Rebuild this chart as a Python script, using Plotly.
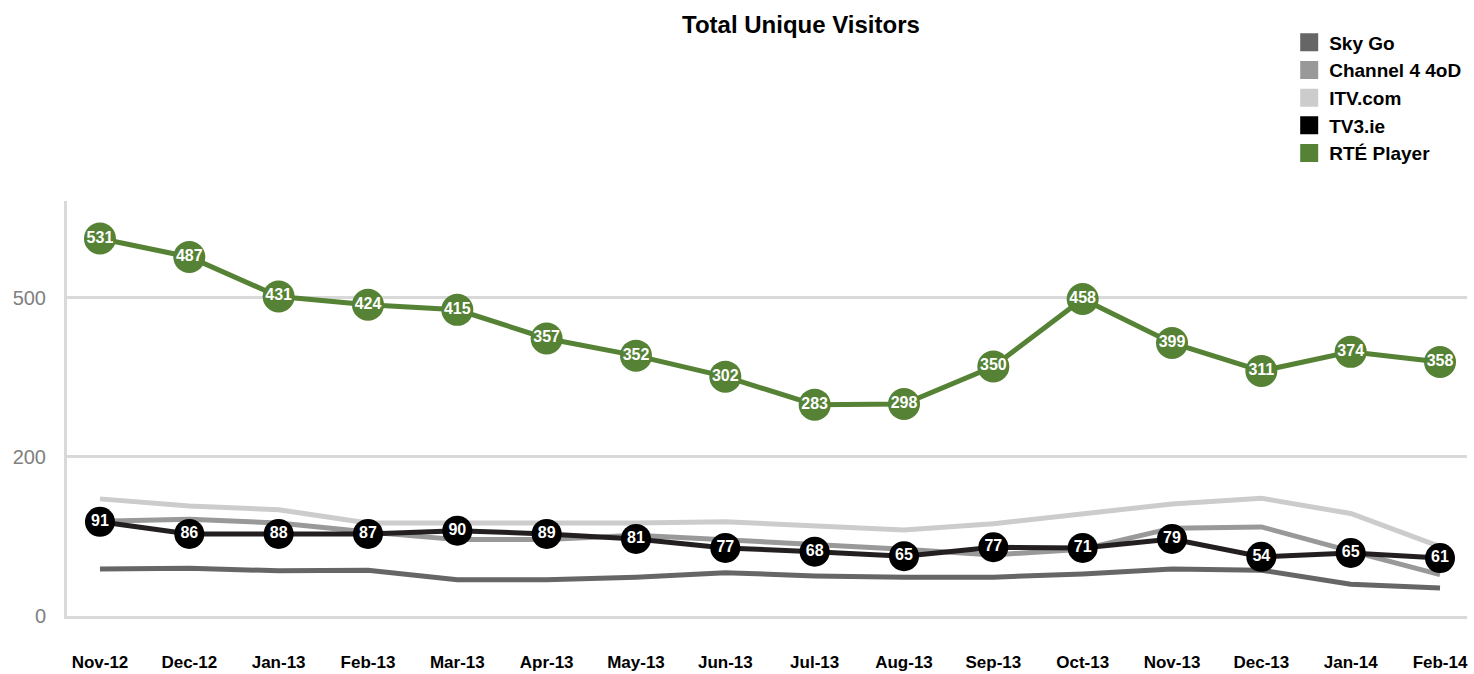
import plotly.graph_objects as go

months = ["Nov-12", "Dec-12", "Jan-13", "Feb-13", "Mar-13", "Apr-13", "May-13", "Jun-13",
          "Jul-13", "Aug-13", "Sep-13", "Oct-13", "Nov-13", "Dec-13", "Jan-14", "Feb-14"]

# Line heights, in the chart's own (uneven) axis units
sky_go = [74, 75, 71, 72, 57, 57, 61, 68, 63, 61, 61, 66, 74, 72, 50, 44]
channel4 = [149, 152, 146, 132, 120, 120, 127, 120, 113, 105, 96, 105, 138, 140, 102, 65]
itv = [184, 173, 167, 146, 146, 146, 146, 148, 142, 135, 145, 160, 176, 185, 161, 109]
tv3 = [148, 129, 129, 129, 134, 129, 121, 107, 101, 94, 108, 107, 121, 93, 99, 91]
rte = [593, 564, 502, 489, 481, 436, 409, 376, 332, 333, 392, 498, 429, 385, 415, 399]

# Printed values on the markers
tv3_labels = [91, 86, 88, 87, 90, 89, 81, 77, 68, 65, 77, 71, 79, 54, 65, 61]
rte_labels = [531, 487, 431, 424, 415, 357, 352, 302, 283, 298, 350, 458, 399, 311, 374, 358]

ytick_vals = [0, 250, 500]
ytick_text = ["0", "200", "500"]

FONT = "Liberation Sans, Arial, sans-serif"

C_SKY = "#666666"
C_C4 = "#999999"
C_ITV = "#cccccc"
C_TV3 = "#000000"
C_RTE = "#558235"

fig = go.Figure()

for vals, col in [(sky_go, C_SKY), (channel4, C_C4), (itv, C_ITV)]:
    fig.add_trace(go.Scatter(x=months, y=vals, mode="lines",
                             line=dict(color=col, width=5),
                             showlegend=False, hoverinfo="skip"))

fig.add_trace(go.Scatter(x=months, y=tv3, mode="lines+markers+text",
                         line=dict(color="#231f20", width=5),
                         marker=dict(size=30, color=C_TV3),
                         text=[str(v) for v in tv3_labels], textposition="middle center",
                         textfont=dict(color="white", size=16, family=FONT, weight="bold"),
                         showlegend=False, hoverinfo="skip"))

fig.add_trace(go.Scatter(x=months, y=rte, mode="lines+markers+text",
                         line=dict(color=C_RTE, width=5),
                         marker=dict(size=32, color=C_RTE),
                         text=[str(v) for v in rte_labels], textposition="middle center",
                         textfont=dict(color="white", size=16, family=FONT, weight="bold"),
                         showlegend=False, hoverinfo="skip"))

for name, col in [("Sky Go", C_SKY), ("Channel 4 4oD", C_C4), ("ITV.com", C_ITV),
                  ("TV3.ie", C_TV3), ("RTÉ Player", C_RTE)]:
    fig.add_trace(go.Scatter(x=[None], y=[None], mode="markers", name=name,
                             marker=dict(symbol="square", size=20, color=col,
                                         line=dict(color=col, width=2))))

fig.update_layout(
    width=1474, height=674,
    margin=dict(l=67, r=7, t=201, b=58),
    paper_bgcolor="white", plot_bgcolor="white",
    font=dict(family=FONT, color="black"),
    title=dict(text="Total Unique Visitors", x=0.5434, xanchor="center",
               y=1 - 25 / 674, yanchor="middle", yref="container",
               font=dict(size=24, family=FONT, color="black", weight="bold")),
    legend=dict(x=0.873, y=1.428, xanchor="left", yanchor="top",
                font=dict(size=19, family=FONT, color="black", weight="bold"),
                traceorder="normal", itemclick=False),
    xaxis=dict(type="category", range=[-0.369, 15.302], showgrid=False,
               showline=True, linecolor="#d9d9d9", linewidth=3, ticks="",
               tickfont=dict(size=17, family=FONT, color="black", weight="bold"),
               ticklabelstandoff=29, automargin=False, zeroline=False),
    yaxis=dict(range=[0, 652], tickvals=ytick_vals, ticktext=ytick_text,
               showgrid=True, gridcolor="#d9d9d9", gridwidth=3,
               showline=True, linecolor="#d9d9d9", linewidth=3, ticks="",
               tickfont=dict(size=20, family=FONT, color="#808080"),
               ticklabelstandoff=14, automargin=False, zeroline=False),
)

fig.write_html("out.html", config={"displayModeBar": False},
               post_script="document.body.style.margin='0px';")
